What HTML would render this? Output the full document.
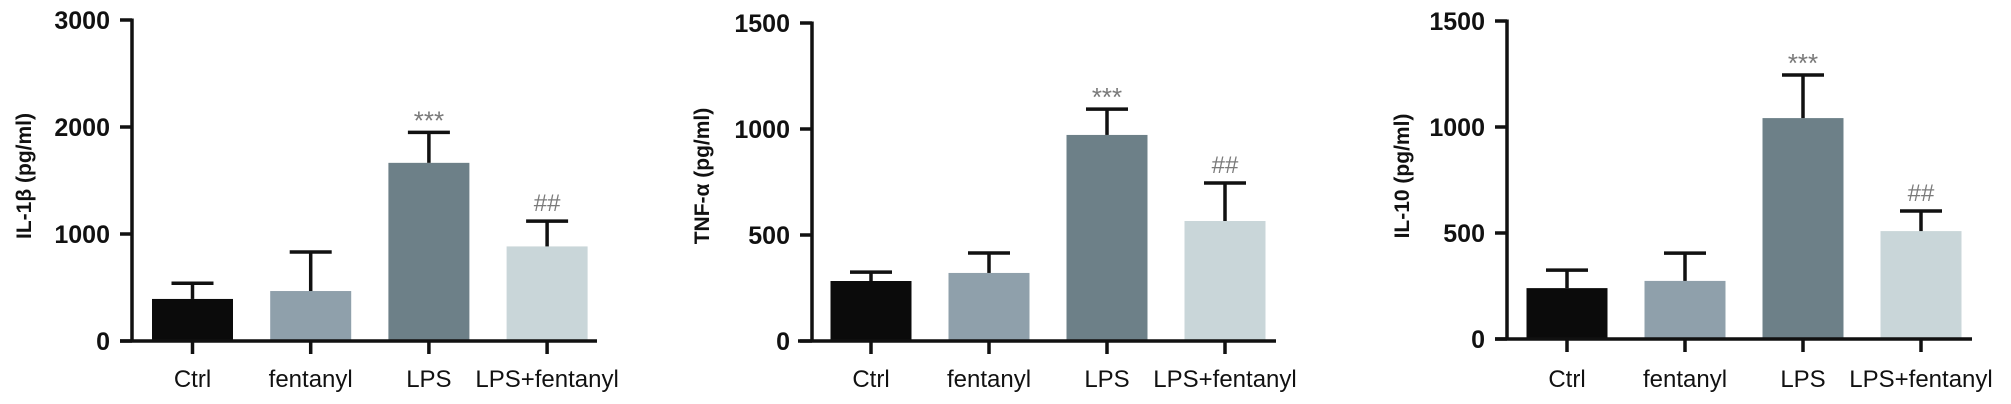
<!DOCTYPE html>
<html><head><meta charset="utf-8">
<style>
html,body{margin:0;padding:0;background:#fff;}
svg{display:block;}
text{font-family:"Liberation Sans",Arial,sans-serif;}
</style></head>
<body>
<svg id="chart" width="2011" height="404" viewBox="0 0 2011 404" xmlns="http://www.w3.org/2000/svg"></svg>
<script>
const categories = ["Ctrl", "fentanyl", "LPS", "LPS+fentanyl"];
const il1bMeans = [393, 467, 1665, 884];
const il1bErrors = [147, 365, 285, 236];
const tnfMeans = [283, 321, 972, 566];
const tnfErrors = [42, 94, 122, 179];
const il10Means = [240, 274, 1042, 509];
const il10Errors = [85, 131, 203, 95];
const il1bTicks = [0, 1000, 2000, 3000];
const tnfTicks = [0, 500, 1000, 1500];
const il10Ticks = [0, 500, 1000, 1500];
const annotations = ["", "", "***", "##"];
const barColors = ["#0b0b0b", "#8fa0ab", "#6d8088", "#c9d6d9"];

const svg = document.getElementById('chart');
const NS = 'http://www.w3.org/2000/svg';
function mk(tag, attrs, parent) {
  const e = document.createElementNS(NS, tag);
  for (const k in attrs) e.setAttribute(k, attrs[k]);
  (parent || svg).appendChild(e);
  return e;
}

const panels = [
  {key:'il1b', title:'IL-1β (pg/ml)', means:il1bMeans, errs:il1bErrors, ticks:il1bTicks,
   axisX:132, zeroY:341, topY:20, c0:192.5, step:118.2, lineL:120, lineR:597, titleX:24},
  {key:'tnf', title:'TNF-α (pg/ml)', means:tnfMeans, errs:tnfErrors, ticks:tnfTicks,
   axisX:812, zeroY:341, topY:23, c0:871, step:118, lineL:798, lineR:1276, titleX:702},
  {key:'il10', title:'IL-10 (pg/ml)', means:il10Means, errs:il10Errors, ticks:il10Ticks,
   axisX:1507, zeroY:339, topY:21, c0:1567, step:118, lineL:1495, lineR:1972, titleX:1402}
];

panels.forEach(p => {
  const g = mk('g', {});
  
  
  const maxV = p.ticks[p.ticks.length - 1];
  const y = v => p.zeroY - (v / maxV) * (p.zeroY - p.topY);
  const x = i => p.c0 + i * p.step;

  // bars
  p.means.forEach((m, i) => {
    const r = mk('rect', {x: x(i) - 40.5, y: y(m), width: 81, height: p.zeroY - y(m), fill: barColors[i]}, g);
    
    
  });
  // error bars
  p.means.forEach((m, i) => {
    const top = y(m + p.errs[i]);
    const eg = mk('g', {stroke: '#111', 'stroke-width': 3.5}, g);
    
    
    mk('line', {x1: x(i), x2: x(i), y1: y(m), y2: top}, eg);
    mk('line', {x1: x(i) - 21, x2: x(i) + 21, y1: top, y2: top}, eg);
    if (annotations[i]) {
      const isStar = annotations[i] === '***';
      const t = mk('text', {x: x(i), y: top - (isStar ? 3 : 10), 'text-anchor': 'middle', fill: '#7a7a7a',
        'font-size': isStar ? 26 : 24,
        'font-family': isStar ? '"Liberation Sans",sans-serif' : '"Liberation Serif",serif'}, g);
      t.textContent = annotations[i];
      
      
    }
  });
  // axes
  const ax = mk('g', {stroke: '#111', 'stroke-width': 3.5}, g);
  
  
  mk('line', {x1: p.axisX, x2: p.axisX, y1: p.topY - 1.5, y2: p.zeroY + 1.5}, ax);
  mk('line', {x1: p.lineL, x2: p.lineR, y1: p.zeroY, y2: p.zeroY}, ax);
  p.ticks.forEach(tv => {
    mk('line', {x1: p.axisX - 12, x2: p.axisX, y1: y(tv), y2: y(tv)}, ax);
    const t = mk('text', {x: p.axisX - 22, y: y(tv) + 9, 'text-anchor': 'end', 'font-size': 25, 'font-weight': 'bold', fill: '#111'}, g);
    t.textContent = tv;
    
    
  });
  categories.forEach((c, i) => {
    mk('line', {x1: x(i), x2: x(i), y1: p.zeroY, y2: p.zeroY + 13}, ax);
    const t = mk('text', {x: x(i), y: 387, 'text-anchor': 'middle', 'font-size': 24, fill: '#111'}, g);
    t.textContent = c;
    
    
  });
  const tt = mk('text', {x: p.titleX, y: 176, 'text-anchor': 'middle', 'font-size': 21, 'font-weight': 'bold', fill: '#111',
    transform: 'rotate(-90 ' + p.titleX + ' 176)', dy: 7}, g);
  tt.textContent = p.title;
  
  
});
</script>
</body></html>
